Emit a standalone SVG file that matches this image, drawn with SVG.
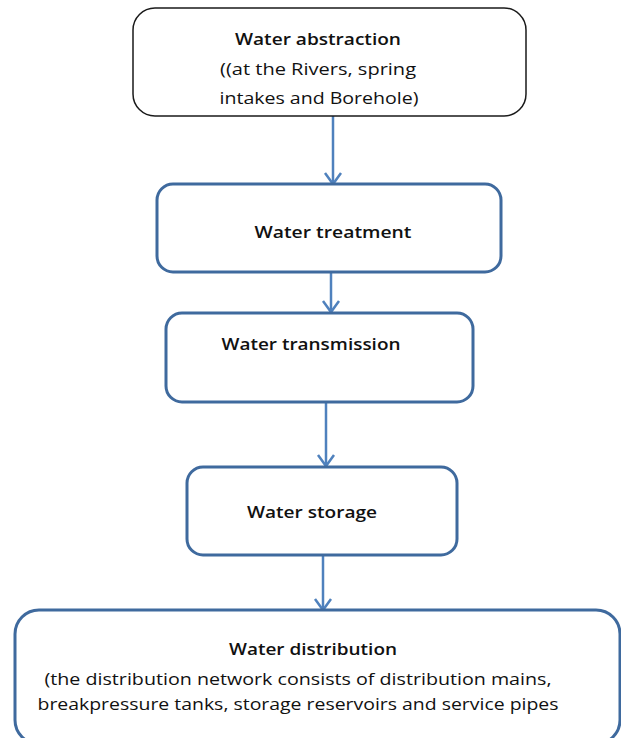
<svg xmlns="http://www.w3.org/2000/svg" width="621" height="738" viewBox="0 0 621 738">
<style>
.box{fill:#fff;stroke:#3F6A9E;stroke-width:3}
.box0{fill:#fff;stroke:#1a1a1a;stroke-width:1.5}
.t{font-family:"Open Sans","Liberation Sans",sans-serif;font-size:16px;fill:#111;text-anchor:middle}
.h{font-weight:600}
.c{stroke:#4F81BD;stroke-width:2.5;fill:none}
</style>
<defs>
<marker id="arr" markerUnits="userSpaceOnUse" viewBox="-10 -12 20 14" refX="0" refY="0" markerWidth="20" markerHeight="14" orient="auto-start-reverse">
<path d="M-8,-11 L0,0 L8,-11" fill="none" stroke="#4F81BD" stroke-width="2.5" transform="rotate(-90)"/>
</marker>
</defs>
<rect width="621" height="738" fill="#fff"/>
<g id="connectors">
<line class="c" x1="333" y1="116" x2="333" y2="184"/>
<path class="c" d="M325,173 L333,184 L341,173"/>
<line class="c" x1="331" y1="272" x2="331" y2="312"/>
<path class="c" d="M323,301 L331,312 L339,301"/>
<line class="c" x1="326" y1="402" x2="326" y2="466"/>
<path class="c" d="M318,455 L326,466 L334,455"/>
<line class="c" x1="323" y1="555" x2="323" y2="610"/>
<path class="c" d="M315,599 L323,610 L331,599"/>
</g>
<g id="abstraction">
<rect class="box0" x="133" y="8" width="393" height="108" rx="22"/>
<text class="t h" x="318" y="45" textLength="166" lengthAdjust="spacingAndGlyphs">Water abstraction</text>
<text class="t" x="318" y="75" textLength="196" lengthAdjust="spacingAndGlyphs">((at the Rivers, spring</text>
<text class="t" x="319" y="104" textLength="199" lengthAdjust="spacingAndGlyphs">intakes and Borehole)</text>
</g>
<g id="treatment">
<rect class="box" x="157" y="184" width="344" height="88" rx="16"/>
<text class="t h" x="333" y="238" textLength="157" lengthAdjust="spacingAndGlyphs">Water treatment</text>
</g>
<g id="transmission">
<rect class="box" x="166" y="313" width="307" height="89" rx="16"/>
<text class="t h" x="311" y="350" textLength="179" lengthAdjust="spacingAndGlyphs">Water transmission</text>
</g>
<g id="storage">
<rect class="box" x="187" y="467" width="270" height="88" rx="16"/>
<text class="t h" x="312" y="518" textLength="130" lengthAdjust="spacingAndGlyphs">Water storage</text>
</g>
<g id="distribution">
<rect class="box" x="15" y="610" width="605" height="134" rx="24"/>
<text class="t h" x="313" y="655" textLength="168" lengthAdjust="spacingAndGlyphs">Water distribution</text>
<text class="t" x="298" y="685" textLength="507" lengthAdjust="spacingAndGlyphs">(the distribution network consists of distribution mains,</text>
<text class="t" x="298" y="710" textLength="521" lengthAdjust="spacingAndGlyphs">breakpressure tanks, storage reservoirs and service pipes</text>
</g>
</svg>
